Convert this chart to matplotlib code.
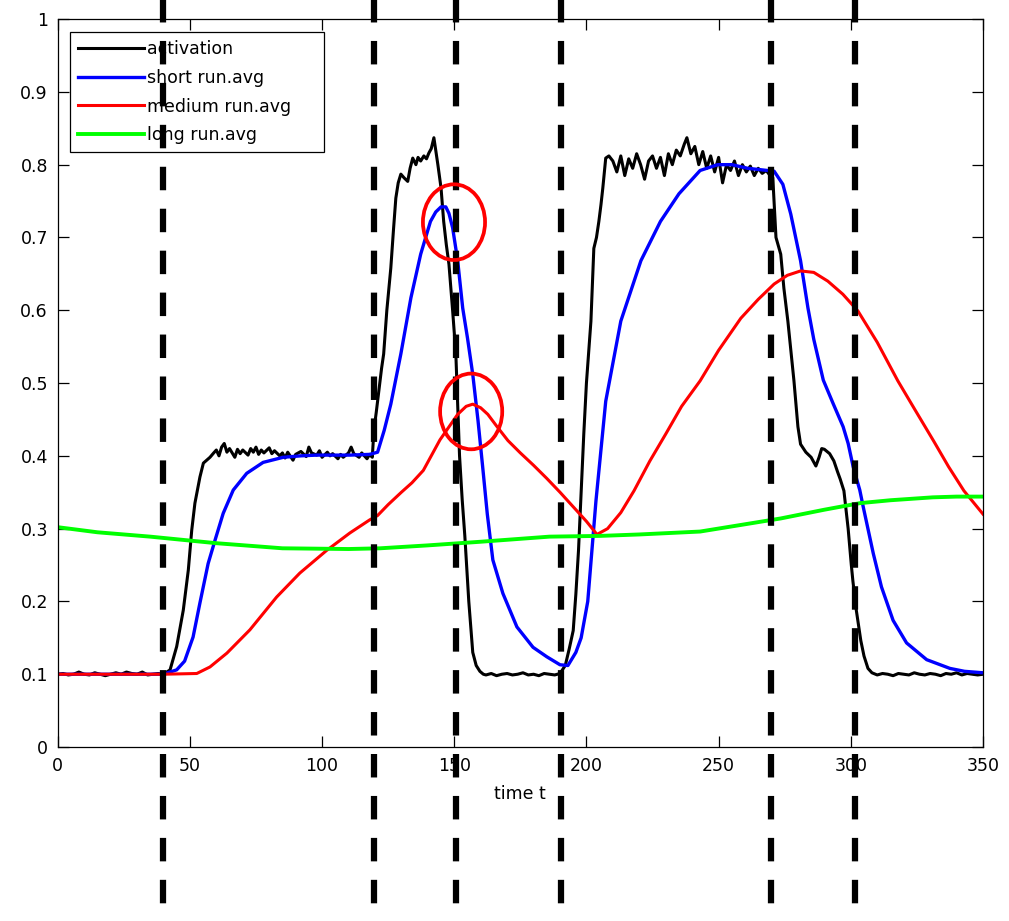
import matplotlib
matplotlib.use("Agg")
import matplotlib.pyplot as plt
import matplotlib.transforms as mtransforms
from matplotlib.lines import Line2D
from matplotlib.patches import Ellipse

# activation (noisy)
act_t = [0, 2, 4, 6, 8, 10, 12, 14, 16, 18,
         20, 22, 24, 26, 28, 30, 32, 34, 36, 38,
         40, 42.5, 45, 47.5, 49.4, 50.7, 51.9, 53.8, 55.1, 57.6,
         59, 60, 61, 62, 63, 64, 65, 66, 67, 68,
         69, 70, 72, 73, 74, 75, 76, 77, 78, 80,
         81, 82, 84, 85, 86, 87, 89, 90, 92, 94,
         95, 96, 98, 99, 100, 102, 103, 104, 106, 107,
         108, 110, 111, 112, 114, 115, 116, 117, 118, 119,
         119.6, 120.5, 121.5, 122.5, 123.3, 124.5, 126, 127, 127.9, 128.8,
         129.8, 131, 132.4, 133.3, 134.3, 135.5, 136.3, 137.3, 138.5, 139.5,
         140.4, 141.3, 142.3, 143, 143.8, 145, 146, 147, 148, 149.4,
         150.6, 151.3, 152, 153, 154, 155.5, 157, 158.3, 159.7, 161,
         162, 164, 166, 168, 170, 172, 174, 176, 178, 180,
         182, 184, 186, 188, 190, 192, 193.5, 195, 196, 197,
         198, 199, 200, 201, 201.7, 202.8, 203.8, 204.7, 205.5, 206.2,
         207.3, 208.5, 210, 211.5, 213, 214.5, 216, 217.5, 219, 220.5,
         222, 223.5, 225, 226.5, 228, 229.5, 231, 232.5, 234, 235.5,
         237, 238, 239.5, 241, 242.5, 244, 245.5, 247, 248.5, 250,
         251.5, 253, 254.5, 256, 257.5, 259, 260.5, 262, 263.5, 265,
         266.5, 268, 269.5, 270.5, 271.7, 273.5, 274.7, 276.2, 278.5, 280,
         281, 283, 285, 286.8, 288, 289, 290, 292, 293.6, 295,
         296, 297.4, 299, 300.2, 300.8, 302, 303.8, 305, 306.5, 308,
         310, 312, 314, 316, 318, 320, 322, 324, 326, 328,
         330, 332, 334, 336, 338, 340, 342, 344, 346, 348,
         350]
act_v = [0.100, 0.101, 0.099, 0.100, 0.103, 0.100, 0.099, 0.102, 0.100, 0.098,
         0.100, 0.102, 0.100, 0.103, 0.101, 0.100, 0.103, 0.099, 0.100, 0.101,
         0.100, 0.106, 0.138, 0.188, 0.243, 0.298, 0.335, 0.371, 0.390, 0.398,
         0.404, 0.408, 0.400, 0.412, 0.417, 0.405, 0.410, 0.404, 0.398, 0.409,
         0.403, 0.408, 0.401, 0.410, 0.405, 0.412, 0.402, 0.408, 0.404, 0.411,
         0.403, 0.407, 0.400, 0.404, 0.397, 0.405, 0.394, 0.402, 0.406, 0.399,
         0.412, 0.404, 0.401, 0.407, 0.398, 0.405, 0.400, 0.403, 0.396, 0.402,
         0.398, 0.404, 0.412, 0.403, 0.398, 0.404, 0.400, 0.396, 0.402, 0.398,
         0.435, 0.460, 0.490, 0.520, 0.540, 0.600, 0.658, 0.710, 0.754, 0.775,
         0.787, 0.782, 0.777, 0.795, 0.809, 0.800, 0.810, 0.805, 0.812, 0.808,
         0.816, 0.822, 0.837, 0.820, 0.800, 0.768, 0.722, 0.690, 0.663, 0.599,
         0.540, 0.471, 0.400, 0.340, 0.290, 0.200, 0.130, 0.112, 0.104, 0.100,
         0.099, 0.101, 0.098, 0.100, 0.101, 0.099, 0.100, 0.102, 0.099, 0.100,
         0.098, 0.101, 0.100, 0.099, 0.101, 0.112, 0.135, 0.160, 0.210, 0.270,
         0.350, 0.430, 0.500, 0.550, 0.585, 0.685, 0.700, 0.722, 0.745, 0.768,
         0.809, 0.812, 0.805, 0.790, 0.812, 0.785, 0.808, 0.795, 0.815, 0.800,
         0.780, 0.805, 0.812, 0.795, 0.810, 0.785, 0.815, 0.800, 0.820, 0.812,
         0.828, 0.837, 0.815, 0.825, 0.800, 0.818, 0.795, 0.812, 0.790, 0.810,
         0.775, 0.800, 0.792, 0.805, 0.785, 0.800, 0.790, 0.798, 0.785, 0.795,
         0.788, 0.792, 0.785, 0.782, 0.700, 0.677, 0.630, 0.585, 0.503, 0.440,
         0.416, 0.405, 0.398, 0.386, 0.398, 0.410, 0.409, 0.403, 0.393, 0.378,
         0.368, 0.352, 0.300, 0.250, 0.228, 0.190, 0.146, 0.125, 0.108, 0.102,
         0.099, 0.101, 0.100, 0.098, 0.101, 0.100, 0.099, 0.102, 0.100, 0.099,
         0.101, 0.100, 0.098, 0.101, 0.100, 0.102, 0.099, 0.101, 0.100, 0.099,
         0.100]

short_t = [0, 20, 40, 45, 48, 51.2, 53.8, 56.9, 59.5, 62.6,
           66.4, 71.5, 77.7, 85.3, 92, 98, 110.5, 118, 121, 123.5,
           126, 129.8, 133.6, 137.3, 141, 143, 145, 146.8, 148, 149.4,
           151.3, 153.2, 155, 157, 159, 160.8, 162.5, 164.6, 168.4, 173.7,
           179.8, 185, 190, 193, 196, 198, 200.5, 203.6, 207.3, 213,
           220.6, 228, 235, 243, 249.7, 255, 261, 266, 271, 274.3,
           277.3, 281, 283.8, 286, 289.6, 293.3, 297.1, 299, 300.9, 303.4,
           304.7, 306.6, 308.5, 311.6, 316, 321.1, 328.7, 337.5, 343, 350]
short_v = [0.100, 0.100, 0.100, 0.106, 0.118, 0.151, 0.198, 0.252, 0.284, 0.321,
           0.353, 0.376, 0.391, 0.398, 0.400, 0.401, 0.401, 0.402, 0.405, 0.435,
           0.471, 0.540, 0.617, 0.677, 0.722, 0.735, 0.742, 0.742, 0.733, 0.713,
           0.668, 0.603, 0.562, 0.512, 0.448, 0.383, 0.320, 0.257, 0.211, 0.165,
           0.137, 0.124, 0.113, 0.112, 0.130, 0.150, 0.200, 0.338, 0.475, 0.585,
           0.668, 0.722, 0.760, 0.792, 0.800, 0.800, 0.795, 0.793, 0.791, 0.773,
           0.732, 0.668, 0.603, 0.560, 0.504, 0.472, 0.440, 0.417, 0.385, 0.353,
           0.330, 0.298, 0.266, 0.220, 0.174, 0.143, 0.120, 0.108, 0.104, 0.102]

medium_t = [0, 20, 40, 52.6, 57.6, 64, 72.7, 82.8, 91.6, 101.7,
            110.5, 118, 121, 125, 130, 134, 138.3, 144.6, 151.3, 154.5,
            157, 160, 162.7, 166, 170.3, 175, 180, 185, 190, 195,
            200, 204, 208, 213, 218, 224, 230, 236, 243, 250,
            258.4, 265, 271, 276, 281, 286, 291.3, 297, 302.7, 310,
            317.8, 324, 331.4, 337, 342.8, 350]
medium_v = [0.100, 0.100, 0.100, 0.101, 0.110, 0.129, 0.161, 0.206, 0.239, 0.270,
            0.294, 0.312, 0.318, 0.333, 0.350, 0.363, 0.380, 0.422, 0.457, 0.468,
            0.471, 0.466, 0.457, 0.441, 0.421, 0.404, 0.387, 0.369, 0.350, 0.330,
            0.310, 0.292, 0.300, 0.322, 0.352, 0.393, 0.430, 0.468, 0.503, 0.545,
            0.589, 0.615, 0.636, 0.648, 0.654, 0.652, 0.640, 0.622, 0.599, 0.556,
            0.503, 0.465, 0.420, 0.385, 0.352, 0.320]

long_t = [0, 15, 35, 60, 85, 110, 122, 140, 160, 186,
          205, 220, 243, 260, 273.5, 290, 303.4, 315, 331, 340, 350]
long_v = [0.302, 0.295, 0.289, 0.280, 0.273, 0.272, 0.273, 0.277, 0.282, 0.289,
          0.290, 0.292, 0.296, 0.306, 0.314, 0.326, 0.335, 0.339, 0.343, 0.344, 0.344]

# dashed markers and the two circled peaks
event_t = [40, 119.7, 150.5, 190.3, 270, 301.5]
circle_t = [149.9, 156.4]
circle_v = [0.721, 0.461]

x_ticks = [0, 50, 100, 150, 200, 250, 300, 350]
y_ticks = [0, 0.1, 0.2, 0.3, 0.4, 0.5, 0.6, 0.7, 0.8, 0.9, 1]

plt.rcParams["font.family"] = ["DejaVu Sans"]
plt.rcParams["lines.scale_dashes"] = False

fig = plt.figure(figsize=(10.09, 9.21), dpi=100)
ax = fig.add_axes([0.0572, 0.1889, 0.917, 0.7904])

ax.plot(act_t, act_v, color="black", lw=2.2, label="activation")
ax.plot(short_t, short_v, color="#0000ff", lw=2.4, label="short run.avg")
ax.plot(medium_t, medium_v, color="#ff0000", lw=2.2, label="medium run.avg")
ax.plot(long_t, long_v, color="#00ff00", lw=2.8, label="long run.avg")

ax.set_xlim(0, 350)
ax.set_ylim(0, 1)
ax.set_xticks(x_ticks)
ax.set_yticks(y_ticks)
ax.set_yticklabels(["%g" % v for v in y_ticks])
ax.tick_params(direction="in", length=8, width=0.9, top=True, right=True,
               labelsize=12.5, pad=7)
for sp in ax.spines.values():
    sp.set_linewidth(0.9)

ax.set_xlabel("time t", fontsize=12.5)
ax.xaxis.set_label_coords(0.5, -0.052)

leg = ax.legend(loc="upper left", bbox_to_anchor=(0.0133, 0.982, 0.2745, 0.0),
                mode="expand", borderaxespad=0, fontsize=12.5, handlelength=3.8,
                handletextpad=0.2, borderpad=0.45, labelspacing=0.62,
                fancybox=False, framealpha=1, edgecolor="black")
leg.get_frame().set_linewidth(0.9)

# event lines run over the whole figure height, on top of everything
trans = mtransforms.blended_transform_factory(ax.transData, fig.transFigure)
for t in event_t:
    ax.add_line(Line2D([t, t], [1 + 27 / 921, 0], transform=trans,
                       color="black", lw=4.5, linestyle=(0, (16.9, 13.3)),
                       clip_on=False, zorder=6))

for t, v in zip(circle_t, circle_v):
    ax.add_patch(Ellipse((t, v), 23.5, 0.104, fill=False, edgecolor="#ff0000",
                         lw=2.7, zorder=7, clip_on=False))

fig.savefig("out.png", dpi=100)
